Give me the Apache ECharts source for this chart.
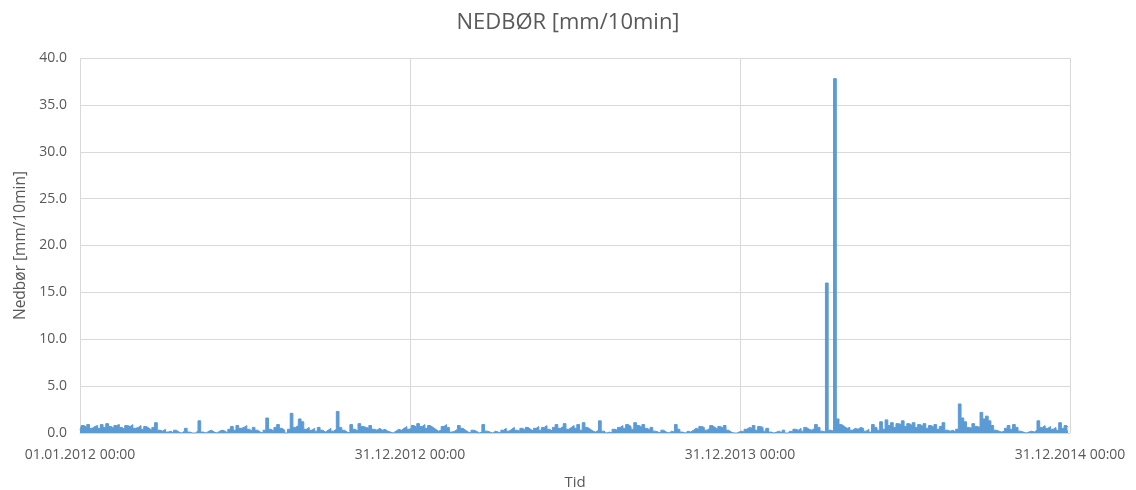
<!DOCTYPE html>
<html>
<head>
<meta charset="utf-8">
<script src="https://cdn.jsdelivr.net/npm/echarts@6/dist/echarts.min.js"></script>
<style>
  html, body { margin: 0; padding: 0; background: #ffffff; }
  #chart { width: 1136px; height: 490px; }
</style>
</head>
<body>
<div id="chart"></div>
<script>
// nedbør, en verdi per 3. døgn, fra 01.01 hvert år (mm/10min)
const stepDays = 3;
const yearDays = 365;
const rain2012 = [
  0.3, 0.8, 0.6, 0.9, 0.5, 0.7, 0.8, 0.5, 0.9, 0.6,
  1.0, 0.7, 0.5, 0.8, 0.9, 0.6, 0.4, 0.8, 0.7, 0.9,
  0.5, 0.6, 0.8, 0.4, 0.7, 0.5, 0.3, 0.6, 1.1, 0.3,
  0.2, 0.4, 0.1, 0.2, 0, 0.3, 0.1, 0, 0.2, 0.5,
  0.1, 0, 0, 0.2, 1.3, 0.1, 0, 0.2, 0.3, 0.1,
  0, 0.2, 0.3, 0.2, 0, 0.4, 0.7, 0.3, 0.8, 0.5,
  0.6, 0.8, 0.4, 0.2, 0.6, 0.3, 0.1, 0, 0.3, 1.6,
  0.4, 0.2, 0.6, 0.9, 0.5, 0.3, 0, 0.4, 2.1, 0.6,
  0.8, 1.5, 1.2, 0.4, 0.6, 0.3, 0.5, 0.2, 0.6, 0.3,
  0.1, 0.3, 0.5, 0.2, 0.4, 2.3, 0.6, 0.3, 0.1, 0,
  0.9, 0.4, 0.2, 1.0, 0.7, 0.6, 0.5, 0.8, 0.4, 0.3,
  0.5, 0.3, 0.4, 0.2, 0.1, 0, 0.2, 0.4, 0.3, 0.5, 0.7, 0.4
];
const rain2013 = [
  0.5, 0.8, 0.6, 1.0, 0.7, 0.9, 0.5, 0.8, 0.6, 0.4,
  0.2, 0.3, 0.7, 0.9, 0.6, 0.1, 0.2, 0.4, 0.8, 0.5,
  0.3, 0.1, 0, 0.3, 0.2, 0, 0.1, 0.9, 0.2, 0.1,
  0, 0.2, 0.1, 0, 0.3, 0.5, 0.2, 0.4, 0.6, 0.3,
  0.2, 0.5, 0.3, 0.6, 0.4, 0.2, 0.5, 0.7, 0.3, 0.6,
  0.8, 0.4, 0.2, 0.6, 0.9, 0.5, 0.7, 1.0, 0.4, 0.6,
  0.8, 0.5, 0.9, 0.3, 1.1, 0.6, 0.4, 0.2, 0.1, 0.3,
  1.3, 0.2, 0, 0.1, 0, 0.4, 0.3, 0.6, 0.8, 0.5,
  0.9, 0.7, 0.4, 1.1, 0.8, 0.6, 0.9, 0.5, 0.3, 0.6,
  0.2, 0.1, 0, 0.3, 0.1, 0, 0.2, 0.1, 0.9, 0.4,
  0.1, 0, 0.2, 0.1, 0.3, 0.5, 0.4, 0.7, 0.6, 0.3,
  0.5, 0.8, 0.6, 0.4, 0.7, 0.5, 0.8, 0.3, 0.1, 0, 0, 0.1
];
const rain2014 = [
  0.2, 0.1, 0.4, 0.6, 0.5, 0.8, 0.3, 0.7, 0.6, 0.2,
  0.5, 0.1, 0, 0.1, 0.2, 0, 0.3, 0, 0.2, 0.1,
  0.4, 0.3, 0.5, 0.2, 0.6, 0.4, 0.3, 0.5, 0.9, 0.6,
  0.2, 0.1, 16.0, 0.3, 0.2, 37.8, 1.5, 0.9, 0.7, 0.5,
  0.6, 0.3, 0.5, 0.4, 0.6, 0.5, 0.2, 0.4, 0.1, 0.9,
  0.6, 0.3, 1.2, 0.4, 1.4, 0.8, 1.1, 0.6, 1.0, 0.9,
  1.3, 0.7, 1.0, 0.8, 1.1, 0.6, 0.9, 0.7, 1.0, 0.5,
  0.8, 0.6, 0.9, 0.4, 0.7, 1.1, 0.3, 0.2, 0.3, 0.1,
  0.4, 3.1, 1.6, 1.2, 0.6, 0.5, 1.0, 0.7, 0.6, 2.2,
  1.5, 1.8, 1.3, 0.8, 0.3, 0.2, 0.1, 0.2, 0.5, 0.8,
  0.4, 0.9, 0.6, 0.2, 0.1, 0, 0.1, 0.2, 0.1, 0.3,
  1.3, 0.6, 0.8, 0.5, 0.7, 0.4, 0.6, 0.3, 1.1, 0.5, 0.8, 0.6
];
const yTicks = [0, 40, 5];   // min, max, intervall
const startDate = Date.UTC(2012, 0, 1);

function pad(n) {
  return n < 10 ? '0' + n : '' + n;
}

// dag-nummer -> "dd.mm.yyyy 00:00"
function dayLabel(day) {
  const d = new Date(startDate + day * 86400000);
  return pad(d.getUTCDate()) + '.' + pad(d.getUTCMonth() + 1) + '.' + d.getUTCFullYear() + ' 00:00';
}

let seriesData = [];
[rain2012, rain2013, rain2014].forEach((year, y) => {
  year.forEach((v, i) => {
    seriesData.push([y * yearDays + i * stepDays, v]);
  });
});

const textColor = '#595959';
const font = 'Open Sans';

let chart = echarts.init(document.getElementById('chart'));
chart.setOption({
  animation: false,
  textStyle: {fontFamily: font, color: textColor},
  title: {
    text: 'NEDBØR [mm/10min]',
    left: 'center',
    top: 7,
    textStyle: {fontFamily: font, fontSize: 22, fontWeight: 'normal', color: textColor}
  },
  grid: {
    left: 80,
    right: 66,
    top: 58,
    bottom: 57,
    outerBoundsMode: 'none'
  },
  xAxis: {
    type: 'value',
    min: 0,
    max: 3 * yearDays,
    interval: yearDays,
    name: 'Tid',
    nameLocation: 'middle',
    nameGap: 42,
    nameTextStyle: {fontSize: 15, color: textColor},
    axisLine: {show: true, lineStyle: {color: '#d9d9d9'}},
    axisTick: {show: false},
    axisLabel: {
      margin: 15,
      fontSize: 14,
      color: textColor,
      formatter: v => dayLabel(v)
    },
    splitLine: {show: true, lineStyle: {color: '#d9d9d9'}}
  },
  yAxis: {
    type: 'value',
    min: yTicks[0],
    max: yTicks[1],
    interval: yTicks[2],
    name: 'Nedbør [mm/10min]',
    nameLocation: 'middle',
    nameGap: 50,
    nameTextStyle: {fontSize: 15.5, color: textColor},
    axisLine: {show: false},
    axisTick: {show: false},
    axisLabel: {
      margin: 13,
      fontSize: 14,
      color: textColor,
      formatter: v => v.toFixed(1)
    },
    splitLine: {lineStyle: {color: '#d9d9d9'}}
  },
  series: [
    {
      name: 'Nedbør',
      type: 'line',
      step: 'middle',
      data: seriesData,
      showSymbol: false,
      lineStyle: {color: '#5b9bd5', width: 1},
      areaStyle: {color: '#5b9bd5', opacity: 1},
      itemStyle: {color: '#5b9bd5'}
    }
  ]
});
</script>
</body>
</html>
